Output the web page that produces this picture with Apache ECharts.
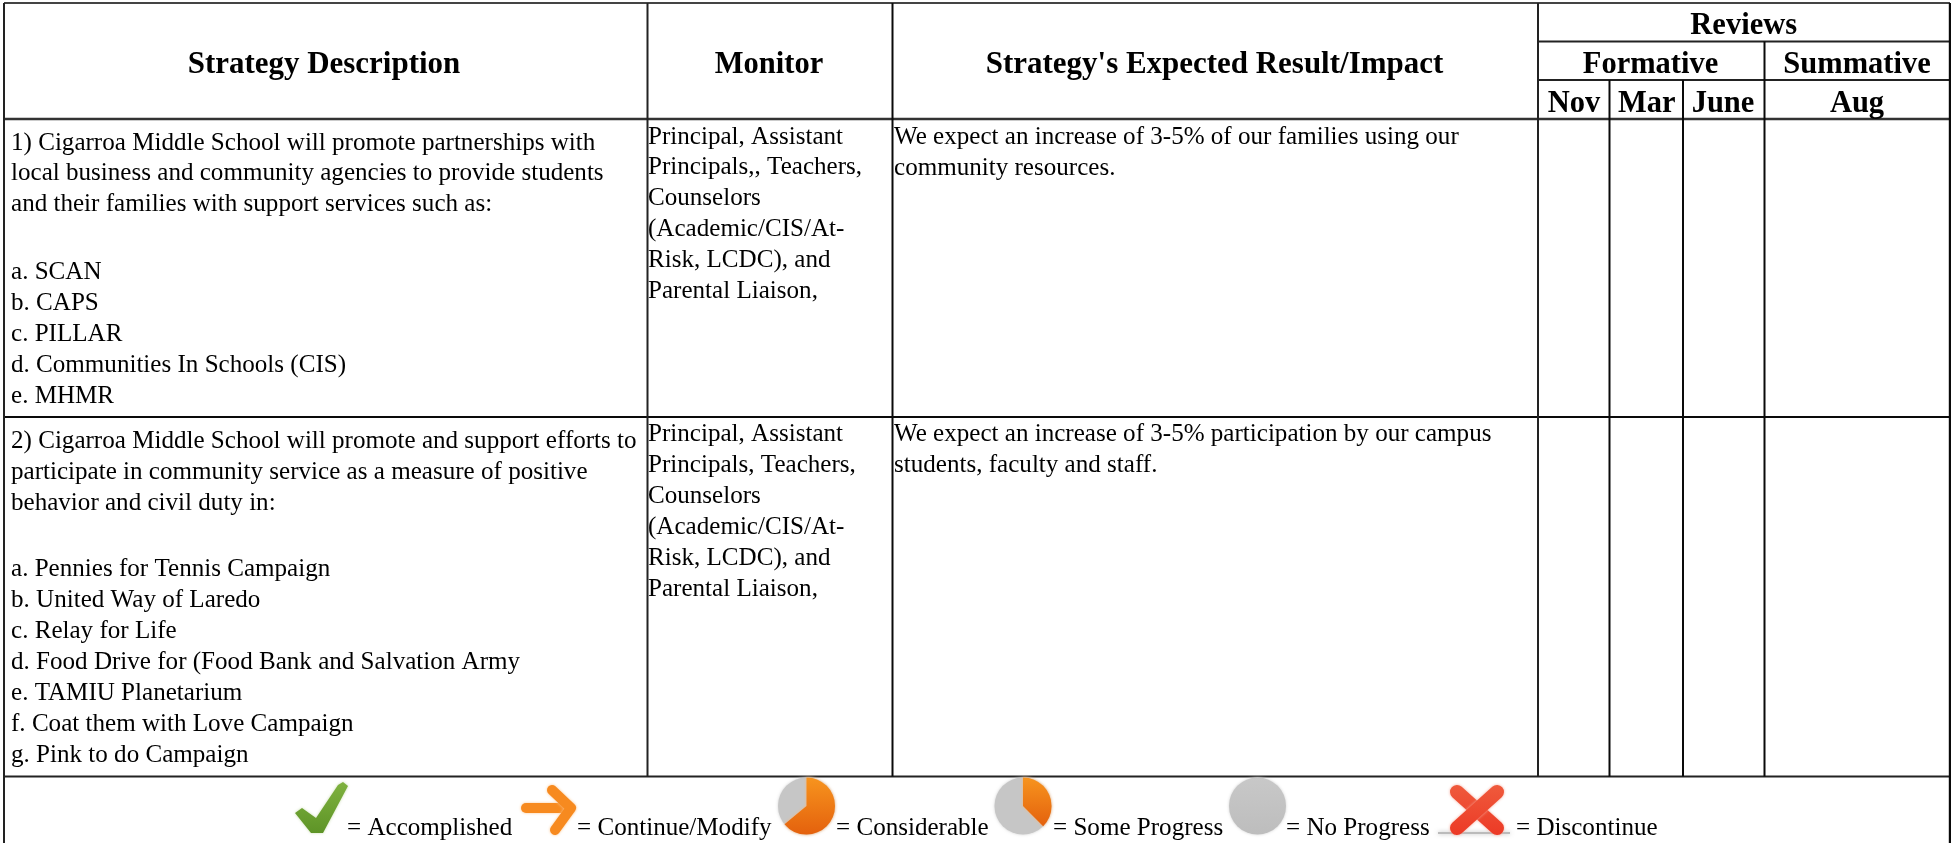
<!DOCTYPE html>
<html>
<head>
<meta charset="utf-8">
<title>Strategy table</title>
<style>html,body{margin:0;padding:0;background:#fff;overflow:hidden}#c{width:1951px;height:843px}</style>
<script src="https://cdn.jsdelivr.net/npm/echarts@6/dist/echarts.min.js"></script>
</head>
<body>
<div id="c"></div>
<script>
// ---- Table content ----
const headStrategy = 'Strategy Description';
const headMonitor = 'Monitor';
const headImpact = "Strategy's Expected Result/Impact";
const headReviews = 'Reviews';
const headFormative = 'Formative';
const headSummative = 'Summative';
const reviewMonths = ['Nov', 'Mar', 'June', 'Aug'];

const strategy1Intro = [
  '1) Cigarroa Middle School will promote partnerships with',
  'local business and community agencies to provide students',
  'and their families with support services such as:'
];
const strategy1List = ['a. SCAN', 'b. CAPS', 'c. PILLAR', 'd. Communities In Schools (CIS)', 'e. MHMR'];
const monitor1 = ['Principal, Assistant', 'Principals,, Teachers,', 'Counselors', '(Academic/CIS/At-', 'Risk, LCDC), and', 'Parental Liaison,'];
const impact1 = ['We expect an increase of 3-5% of our families using our', 'community resources.'];

const strategy2Intro = [
  '2) Cigarroa Middle School will promote and support efforts to',
  'participate in community service as a measure of positive',
  'behavior and civil duty in:'
];
const strategy2List = ['a. Pennies for Tennis Campaign', 'b. United Way of Laredo', 'c. Relay for Life', 'd. Food Drive for (Food Bank and Salvation Army', 'e. TAMIU Planetarium', 'f. Coat them with Love Campaign', 'g. Pink to do Campaign'];
const monitor2 = ['Principal, Assistant', 'Principals, Teachers,', 'Counselors', '(Academic/CIS/At-', 'Risk, LCDC), and', 'Parental Liaison,'];
const impact2 = ['We expect an increase of 3-5% participation by our campus', 'students, faculty and staff.'];

const legendLabels = ['= Accomplished', '= Continue/Modify', '= Considerable', '= Some Progress', '= No Progress', '= Discontinue'];
// share of the pie drawn in orange for the two partial-progress icons
const pieConsiderable = 0.64;
const pieSome = 0.375;

// ---- Layout ----
const L = { left: 4, right: 1950, top: 3, r1: 41.5, r2: 80, head: 119, row1: 417, row2: 776.5, bottom: 843,
  c1: 647.5, c2: 892.5, c3: 1538, c4: 1609.5, c5: 1683, c6: 1764.5 };
const ink = '#0a0a0a';
const bodyFont = '25.33px "Liberation Serif"';
const headFont = 'bold 30.5px "Liberation Serif"';
const bodyScale = 0.99, headScale = 1, wideHeadScale = 1.015;

const els = [];
function hline(y, x1, x2, c, w) { els.push({ type: 'line', silent: true, shape: { x1, y1: y, x2, y2: y }, style: { stroke: c || ink, lineWidth: w || 2 } }); }
function vline(x, y1, y2, c, w) { els.push({ type: 'line', silent: true, shape: { x1: x, y1, x2: x, y2 }, style: { stroke: c || ink, lineWidth: w || 2 } }); }
function text(t, x, y, font, align, sx) {
  els.push({ type: 'text', silent: true, x, y, scaleX: sx, style: { text: t, font, fill: '#000', textAlign: align, textVerticalAlign: 'middle' } });
}
function block(lines, x, y0, pitch) { lines.forEach((t, i) => text(t, x, y0 + i * pitch, bodyFont, 'left', bodyScale)); }

// grid
hline(L.top, L.left, L.right, '#444', 2);
hline(L.r1, L.c3, L.right, '#222', 2);
hline(L.r2, L.c3, L.right, '#222', 2);
hline(L.head, L.left, L.right, '#333', 2.4);
hline(L.row1, L.left, L.right, ink, 2);
hline(L.row2, L.left, L.right, '#222', 2);
vline(L.left, L.top, L.bottom, '#222', 2);
vline(L.right, L.top, L.bottom, ink, 2.4);
vline(L.c1, L.top, L.row2, '#222', 2);
vline(L.c2, L.top, L.row2, ink, 2);
vline(L.c3, L.top, L.row2, '#222', 2);
vline(L.c4, L.r2, L.row2, ink, 2);
vline(L.c5, L.r2, L.row2, ink, 2);
vline(L.c6, L.r1, L.row2, ink, 2);

// header text
text(headStrategy, 324, 65.5, headFont, 'center', wideHeadScale);
text(headMonitor, 769, 65.5, headFont, 'center', headScale);
text(headImpact, 1214.5, 65.5, headFont, 'center', wideHeadScale);
text(headReviews, 1743.7, 26.5, headFont, 'center', headScale);
text(headFormative, 1650.5, 65.2, headFont, 'center', headScale);
text(headSummative, 1857, 65.2, headFont, 'center', headScale);
[1574, 1646.7, 1723, 1857].forEach((x, i) => text(reviewMonths[i], x, 104.2, headFont, 'center', headScale));

// body text
block(strategy1Intro, 11, 143, 30.6);
block(strategy1List, 11, 272, 31);
block(monitor1, 648, 137, 30.8);
block(impact1, 894, 137, 31);
block(strategy2Intro, 11, 441, 31);
block(strategy2List, 11, 569, 31);
block(monitor2, 648, 434, 31);
block(impact2, 894, 434, 31);

// legend text
const legendX = [347, 577, 836, 1053, 1286, 1516];
legendLabels.forEach((t, i) => text(t, legendX[i], 828, bodyFont, 'left', bodyScale));

// legend icons
const soft = c => ({ shadowBlur: 3, shadowColor: c });
const vgrad = (a, b) => ({ type: 'linear', x: 0, y: 0, x2: 0, y2: 1, colorStops: [{ offset: 0, color: a }, { offset: 1, color: b }] });
const tau = Math.PI * 2;
function pie(cx, cy, share) {
  els.push({ type: 'circle', silent: true, shape: { cx, cy, r: 28.5 }, style: { fill: share > 0 ? '#c6c6c6' : vgrad('#c8c8c8', '#bdbdbd'), ...soft('#cfcfcf') } });
  if (share > 0) {
    els.push({ type: 'sector', silent: true, shape: { cx, cy, r0: 0, r: 28.5, startAngle: -tau / 4, endAngle: -tau / 4 + share * tau, clockwise: true },
      style: { fill: vgrad('#f7941e', '#e4610d'), ...soft('#f9b77a') } });
  }
}
// check mark
els.push({ type: 'polygon', silent: true, shape: { points: [[338, 785], [343, 782], [348, 786], [323, 833], [311, 833], [295, 813], [302, 808], [316, 818]] },
  style: { fill: vgrad('#7fb23f', '#5e9427'), ...soft('#c9dcae') } });
// arrow
els.push({ type: 'polyline', silent: true, shape: { points: [[526, 808], [570, 808]] },
  style: { stroke: '#f78a1f', lineWidth: 10, lineCap: 'round', fill: null, ...soft('#fbc690') } });
els.push({ type: 'polyline', silent: true, shape: { points: [[552, 790], [571, 808], [555, 830]] },
  style: { stroke: '#f78a1f', lineWidth: 10, lineCap: 'round', lineJoin: 'round', fill: null, ...soft('#fbc690') } });
// pies
pie(806.5, 806, pieConsiderable);
pie(1023, 806, pieSome);
pie(1257.5, 806, 0);
// cross
els.push({ type: 'rect', silent: true, shape: { x: 1438, y: 832, width: 72, height: 2 }, style: { fill: '#bbbbbb', shadowBlur: 4, shadowColor: '#bbb' } });
els.push({ type: 'line', silent: true, shape: { x1: 1457, y1: 792, x2: 1497, y2: 828 }, style: { stroke: vgrad('#ef5a3c', '#ec3a26'), lineWidth: 14, lineCap: 'round', ...soft('#f5a898') } });
els.push({ type: 'line', silent: true, shape: { x1: 1497, y1: 792, x2: 1457, y2: 828 }, style: { stroke: vgrad('#ef5a3c', '#ec3a26'), lineWidth: 14, lineCap: 'round', ...soft('#f5a898') } });

const chart = echarts.init(document.getElementById('c'), null, { renderer: 'canvas' });
chart.setOption({ animation: false, backgroundColor: '#fff', graphic: { elements: els } });
</script>
</body>
</html>
